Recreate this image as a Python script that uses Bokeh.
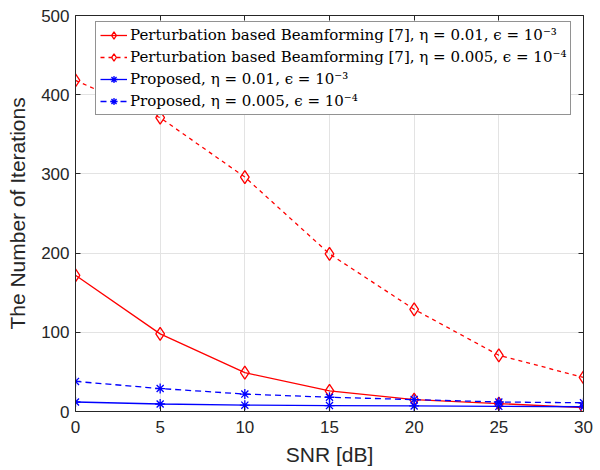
from bokeh.plotting import figure
from bokeh.models import Range1d, LinearAxis, Legend, LegendItem, FixedTicker
from bokeh.embed import file_html
from bokeh.resources import INLINE

snr = [0, 5, 10, 15, 20, 25, 30]
pert_a = [172, 98, 49, 26, 15, 10, 5]
pert_b = [418, 371, 296, 199, 129, 71, 43]
prop_a = [12, 9.5, 8, 7.5, 7, 6.5, 6]
prop_b = [38, 29, 22, 18, 15, 12, 11]
labels = [
    "Perturbation based Beamforming [7], η = 0.01, ϵ = 10⁻³",
    "Perturbation based Beamforming [7], η = 0.005, ϵ = 10⁻⁴",
    "Proposed, η = 0.01, ϵ = 10⁻³",
    "Proposed, η = 0.005, ϵ = 10⁻⁴",
]
x_ticks = [0, 5, 10, 15, 20, 25, 30]
y_ticks = [0, 100, 200, 300, 400, 500]

AX = "#262626"
p = figure(width=600, height=470, output_backend="svg", toolbar_location=None,
           x_range=Range1d(0, 30), y_range=Range1d(0, 500),
           min_border_left=75, min_border_right=17, min_border_top=15, min_border_bottom=59)
p.outline_line_color = None
p.background_fill_color = "white"

for ax in (p.xaxis[0], p.yaxis[0]):
    ax.axis_line_color = AX
    ax.major_tick_line_color = AX
    ax.major_tick_in = 5
    ax.major_tick_out = 0
    ax.minor_tick_line_color = None
    ax.major_label_text_font = "Liberation Sans"
    ax.major_label_text_font_size = "17px"
    ax.major_label_text_color = AX
    ax.axis_label_text_font = "Liberation Sans"
    ax.axis_label_text_font_size = "21px"
    ax.axis_label_text_font_style = "normal"
    ax.axis_label_text_color = AX
p.xaxis.ticker = FixedTicker(ticks=x_ticks)
p.yaxis.ticker = FixedTicker(ticks=y_ticks)
p.xaxis.axis_label = "SNR [dB]"
p.yaxis.axis_label = "The Number of Iterations"
p.xaxis.major_label_standoff = 9
p.xaxis.axis_label_standoff = 7
p.yaxis.major_label_standoff = 6
p.yaxis.axis_label_standoff = 9

for loc, tk in (("above", x_ticks), ("right", y_ticks)):
    a = LinearAxis(ticker=FixedTicker(ticks=tk), axis_line_color=AX,
                   major_tick_line_color=AX, major_tick_in=5, major_tick_out=0,
                   minor_tick_line_color=None, major_label_standoff=0,
                   major_label_overrides={t: "" for t in tk})
    p.add_layout(a, loc)

p.grid.grid_line_color = "#e3e3e3"
p.grid.grid_line_width = 1
p.xgrid.ticker = FixedTicker(ticks=x_ticks)
p.ygrid.ticker = FixedTicker(ticks=y_ticks)

r1 = p.line(snr, pert_a, line_color="red", line_width=1.3)
m1 = p.scatter(snr, pert_a, marker="diamond", size=13, fill_color=None, line_color="red", line_width=1.3)
r2 = p.line(snr, pert_b, line_color="red", line_width=1.3, line_dash="4 4")
m2 = p.scatter(snr, pert_b, marker="diamond", size=13, fill_color=None, line_color="red", line_width=1.3)
r3 = p.line(snr, prop_a, line_color="blue", line_width=1.3)
m3 = p.scatter(snr, prop_a, marker="asterisk", size=10, line_color="blue", line_width=1.3)
r4 = p.line(snr, prop_b, line_color="blue", line_width=1.3, line_dash="6 4")
m4 = p.scatter(snr, prop_b, marker="asterisk", size=10, line_color="blue", line_width=1.3)

items = [LegendItem(label=lab, renderers=rs)
         for lab, rs in zip(labels, [[r1, m1], [r2, m2], [r3, m3], [r4, m4]])]

leg = Legend(items=items, location=(20, 296), border_line_color=AX, border_line_width=1,
             background_fill_color="white", background_fill_alpha=1,
             label_text_font="DejaVu Serif", label_text_font_size="15px",
             label_text_color="black", glyph_width=27, glyph_height=18, label_height=18,
             spacing=4, padding=4, margin=0, label_standoff=3)
p.add_layout(leg, "center")

open("out.html", "w").write(file_html(p, INLINE))
